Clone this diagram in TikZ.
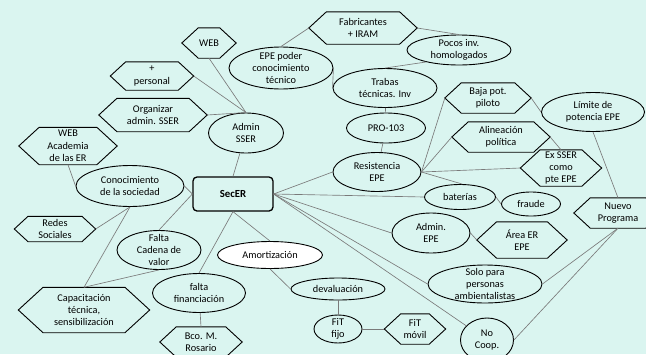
\documentclass[tikz,border=0pt]{standalone}
\usepackage{fontspec}
\setmainfont{Carlito}
\usetikzlibrary{shapes.geometric,calc}

\definecolor{bgmint}{HTML}{DAF5F0}
\definecolor{linkgray}{HTML}{7A7A7A}

\tikzset{
  txt/.style={font=\fontsize{10.3}{12.3}\selectfont, align=center, inner sep=0pt, text=black},
  oval/.style={ellipse, draw=black, line width=0.9pt, fill=bgmint, inner sep=0pt},
  whiteoval/.style={oval, fill=white},
  hexbox/.style={rectangle, inner sep=0pt},
  hexline/.style={draw=black, line width=0.9pt, fill=bgmint, line join=miter},
  mainbox/.style={rectangle, rounded corners=4pt, draw=black, line width=1.3pt, fill=bgmint,
    inner sep=0pt, font=\fontsize{10.8}{12.3}\selectfont\bfseries},
  link/.style={draw=linkgray, line width=0.65pt},
}

% hexagon: name, position, width, height, text
\newcommand\hexnode[5]{%
  \node[hexbox, minimum width=#3, minimum height=#4] (#1) at #2 {};
  \path[hexline] (#1.west) -- ([xshift=0.55*#4]#1.north west)
    -- ([xshift=-0.55*#4]#1.north east) -- (#1.east)
    -- ([xshift=-0.55*#4]#1.south east) -- ([xshift=0.55*#4]#1.south west) -- cycle;
  \node[txt] (#1-t) at (#1.center) {#5};
}
% ellipse: style, name, position, width, height, text
\newcommand\ovalnode[6]{%
  \node[#1, minimum width=#4, minimum height=#5] (#2) at #3 {};
  \node[txt] (#2-t) at (#2.center) {#6};
}

\begin{document}
\begin{tikzpicture}[x=1pt,y=-1pt]
\useasboundingbox (0,0) rectangle (646,354);
\clip (0,0) rectangle (646,354);
\fill[bgmint] (0,0) rectangle (646,354);

% central node
\node[mainbox, minimum width=80pt, minimum height=34pt] (secer) at (233,194) {SecER};

% left and upper-left group
\hexnode{web}{(209,43)}{54pt}{30pt}{WEB}
\hexnode{personal}{(152,76)}{83pt}{28pt}{+\\personal}
\hexnode{orga}{(153,115)}{108pt}{33pt}{Organizar\\admin. SSER}
\hexnode{webac}{(68,146)}{98pt}{37pt}{WEB\\Academia\\de las ER}
\ovalnode{oval}{adminsser}{(246,133)}{75pt}{40pt}{Admin\\SSER}
\ovalnode{oval}{conoc}{(130,186)}{108pt}{41pt}{Conocimiento\\de la sociedad}
\hexnode{redes}{(55,229)}{81pt}{25pt}{Redes\\Sociales}
\ovalnode{oval}{falta}{(159,250)}{84pt}{39pt}{Falta\\Cadena de\\valor}
\hexnode{capac}{(84,310)}{131pt}{45pt}{Capacitación\\técnica,\\sensibilización}
\ovalnode{oval}{fin}{(199,293)}{93pt}{39pt}{falta\\financiación}
\hexnode{bco}{(201,342)}{82pt}{30pt}{Bco. M.\\Rosario}

% upper group
\ovalnode{oval}{epep}{(281,68)}{104pt}{42pt}{EPE poder\\conocimiento\\técnico}
\hexnode{fab}{(363,28)}{108pt}{32pt}{Fabricantes\\+ IRAM}
\ovalnode{oval}{pocos}{(459,50)}{104pt}{30pt}{Pocos inv.\\homologados}
\ovalnode{oval}{trabas}{(385,88)}{104pt}{39pt}{Trabas\\técnicas. Inv}
\ovalnode{oval}{pro}{(386,128)}{79pt}{30pt}{PRO-103}
\ovalnode{oval}{resist}{(377,172)}{88pt}{39pt}{Resistencia\\EPE}

% right group
\hexnode{baja}{(488,98)}{86pt}{30pt}{Baja pot.\\piloto}
\ovalnode{oval}{limite}{(593,112)}{103pt}{39pt}{Límite de\\potencia EPE}
\hexnode{alin}{(501,137)}{98pt}{30pt}{Alineación\\política}
\hexnode{exsser}{(561,168)}{81pt}{36pt}{Ex SSER\\como\\pte EPE}
\ovalnode{oval}{bat}{(460,197)}{71pt}{25pt}{baterías}
\ovalnode{oval}{fraude}{(531,204)}{59pt}{24pt}{fraude}
\hexnode{nuevo}{(618,213)}{88pt}{30pt}{Nuevo\\Programa}
\ovalnode{oval}{admepe}{(431,233)}{78pt}{40pt}{Admin.\\EPE}
\hexnode{area}{(522,240)}{90pt}{36pt}{Área ER\\EPE}
\ovalnode{oval}{solo}{(485,284)}{114pt}{38pt}{Solo para\\personas\\ambientalistas}
\ovalnode{oval}{nocoop}{(487,340)}{53pt}{44pt}{No\\Coop.}

% lower group
\ovalnode{whiteoval}{amort}{(270,255)}{105pt}{27pt}{Amortización}
\ovalnode{oval}{deval}{(338,289)}{94pt}{22pt}{devaluación}
\ovalnode{oval}{fitf}{(338,329)}{48pt}{28pt}{FiT\\fijo}
\hexnode{fitm}{(415,329)}{61pt}{30pt}{FiT\\móvil}

% connectors
\draw[link] (web.south) -- (adminsser.north);
\draw[link] (personal.east) -- (adminsser.north);
\draw[link] (orga.east) -- (adminsser.north);
\draw[link] (adminsser) -- (secer.north);
\draw[link] (epep.north) -- (fab.west);
\draw[link] (epep.east) -- (trabas.west);
\draw[link] (fab.east) -- (pocos.north);
\draw[link] (trabas.north) -- (pocos.200);
\draw[link] (trabas) -- (pro);
\draw[link] (pro) -- (resist);
\draw[link] (secer.east) -- (resist.west);
\draw[link] (resist.east) -- (baja.west);
\draw[link] (resist.east) -- (alin.west);
\draw[link] (resist.east) -- (exsser.west);
\draw[link] (resist.east) -- (bat.80);
\draw[link] (secer.east) -- (bat.west);
\draw[link] (bat.east) -- (fraude.west);
\draw[link] (secer.east) -- (admepe.west);
\draw[link] (secer.east) -- (solo.west);
\draw[link] (secer.east) -- (nocoop);
\draw[link] (admepe.east) -- (area.west);
\draw[link] (baja.east) -- (limite.west);
\draw[link] (alin.east) -- (exsser.north);
\draw[link] (limite.south) -- (nuevo.north);
\draw[link] (nuevo.south) -- (solo.east);
\draw[link] (nuevo.south) -- (nocoop.east);
\draw[link] (secer.west) -- (conoc.east);
\draw[link] (webac.south) -- (conoc.west);
\draw[link] (conoc.south) -- (redes.east);
\draw[link] (conoc.south) -- (capac.north);
\draw[link] (secer.west) -- (falta.north);
\draw[link] (falta.south) -- (capac.north);
\draw[link] (secer.south) -- (fin.north);
\draw[link] (fin) -- (bco.north);
\draw[link] (secer.south) -- (amort.north);
\draw[link] (amort.south) -- (deval.west);
\draw[link] (deval) -- (fitf);
\draw[link] (fitf) -- (fitm.west);
\end{tikzpicture}
\end{document}
